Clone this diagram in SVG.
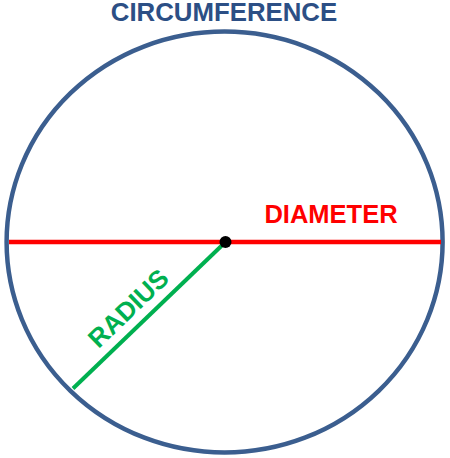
<svg xmlns="http://www.w3.org/2000/svg" width="450" height="458" viewBox="0 0 450 458">
  <style>
    .lbl { font-family: "Liberation Sans", Arial, sans-serif; font-weight: bold; }
  </style>
  <rect width="450" height="458" fill="#ffffff"/>
  <g id="circle">
    <ellipse cx="224.6" cy="242" rx="218" ry="210.5" fill="none" stroke="#3b5e8f" stroke-width="4.5"/>
  </g>
  <g id="connectors">
    <line x1="9" y1="242" x2="441" y2="242" stroke="#ff0000" stroke-width="4.5"/>
    <line x1="225.5" y1="242" x2="73" y2="388.5" stroke="#00b050" stroke-width="4"/>
  </g>
  <g id="center">
    <circle cx="225.5" cy="242" r="6" fill="#000000"/>
  </g>
  <g id="labels">
    <text class="lbl" x="224" y="20.5" font-size="25.8" fill="#2c4f85" text-anchor="middle">CIRCUMFERENCE</text>
    <text class="lbl" x="331" y="223.3" font-size="25.5" fill="#ff0000" text-anchor="middle">DIAMETER</text>
    <text class="lbl" transform="translate(128,308) rotate(-43.8)" x="0" y="9.5" font-size="26" fill="#00b050" text-anchor="middle">RADIUS</text>
  </g>
</svg>
